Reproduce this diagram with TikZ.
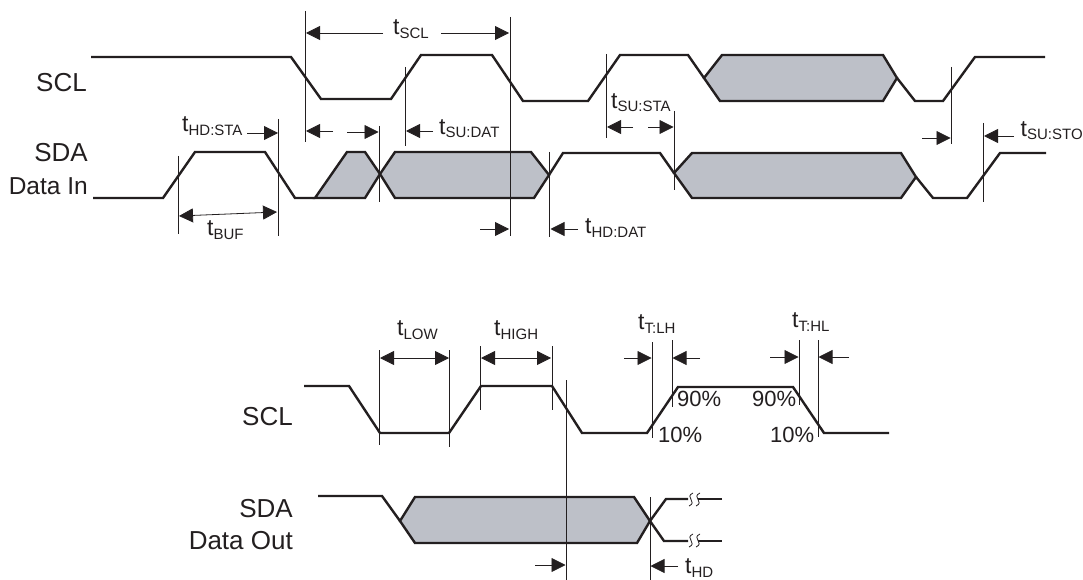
\documentclass[tikz,border=0pt]{standalone}
\usepackage{fontspec}
\setmainfont{Liberation Sans}
\usetikzlibrary{arrows.meta}
\definecolor{inkblack}{HTML}{231F20}
\definecolor{busgray}{HTML}{BDC0C8}
\newcommand{\tlab}[1]{t\raisebox{-3.5pt}{\fontsize{15}{15}\selectfont #1}}
\tikzset{
  wave/.style={line width=2.4pt,color=inkblack},
  bus/.style={wave,fill=busgray},
  tick/.style={line width=0.8pt,color=inkblack},
  dim/.style={line width=0.8pt,color=inkblack,-{Triangle[length=14pt,width=14pt]}},
  dimboth/.style={line width=0.8pt,color=inkblack,{Triangle[length=14pt,width=14pt]}-{Triangle[length=14pt,width=14pt]}},
  sig/.style={inner sep=0,anchor=base east,color=inkblack,font=\fontsize{26}{26}\selectfont},
  sigsmall/.style={sig,font=\fontsize{24.5}{26}\selectfont},
  tname/.style={inner sep=0,anchor=base west,color=inkblack,font=\fontsize{23}{23}\selectfont},
  pct/.style={tname,font=\fontsize{22}{22}\selectfont},
}
\begin{document}
\begin{tikzpicture}[x=1pt,y=-1pt]
\useasboundingbox (0,0) rectangle (1083,580);
% upper diagram
\node[sig](scla) at (87,92) {SCL};
\node[sig](sdaa) at (88,162) {SDA};
\node[sigsmall](datain) at (88,194) {Data In};

\draw[bus] (704,78)--(722,55)--(883,55)--(897,78)--(883,101)--(720,101)--cycle;
\draw[wave] (91,57)--(291,57)--(321,99)--(391,99)--(421,55)--(492,55)--(523,101)--(588,101)--(620,55)--(688,55)--(704,78);
\draw[wave] (897,78)--(915,101)--(943,101)--(975,57)--(1045,57);

\draw[bus] (315,198)--(347,152)--(365,152)--(380,174)--(365,198)--cycle;
\draw[bus] (380,174)--(395,152)--(531,152)--(549,175)--(534,198)--(395,198)--cycle;
\draw[bus] (674,173)--(692,153)--(901,153)--(916,177)--(901,198)--(692,198)--cycle;
\draw[wave] (93,198)--(163,198)--(195,152)--(265,152)--(295,198)--(315,198);
\draw[wave] (549,175)--(563,153)--(660,153)--(674,173);
\draw[wave] (916,177)--(933,198)--(967,198)--(1000,153)--(1046,153);

\draw[tick] (305,11)--(305,142); \draw[tick] (510,17)--(510,236);
\draw[tick] (405,67)--(405,146); \draw[tick] (379,126)--(379,202);
\draw[tick] (278.5,119)--(278.5,236); \draw[tick] (178,156)--(178,234);
\draw[tick] (549.5,152)--(549.5,237); \draw[tick] (606,54)--(606,138);
\draw[tick] (674,111)--(674,190); \draw[tick] (951,67)--(951,144);
\draw[tick] (983,123)--(983,202);

\draw[dim] (383,33)--(306,33); \draw[dim] (441,33)--(509,33);
\draw[dim] (247,133)--(278,133);
\draw[dim] (333,131)--(306,131); \draw[dim] (347,132)--(378.5,132);
\draw[dim] (433,131)--(406,131);
\draw[dimboth] (179,216)--(277,212);
\draw[dim] (480,229)--(509,229); \draw[dim] (578,229)--(550.5,229);
\draw[dim] (633,127)--(607,127); \draw[dim] (648,127)--(673.5,127);
\draw[dim] (922,138)--(950.5,138); \draw[dim] (1014,136)--(984,136);

\node[tname](tscl) at (393,35) {\tlab{SCL}};
\node[tname](thdsta) at (182,132) {\tlab{HD:STA}};
\node[tname](tsudat) at (439,134.5) {\tlab{SU:DAT}};
\node[tname](tbuf) at (207,235.5) {\tlab{BUF}};
\node[tname](thddat) at (585,233.5) {\tlab{HD:DAT}};
\node[tname](tsusta) at (611,108.5) {\tlab{SU:STA}};
\node[tname](tsusto) at (1020.5,136.5) {\tlab{SU:STO}};

% lower diagram
\node[sig](sclb) at (293,425) {SCL};
\node[sig](sdab) at (293,517) {SDA};
\node[sig](dataout) at (293,549) {Data Out};

\draw[wave] (304,386)--(349,386)--(380,433)--(449,433)--(481,386)--(552,386)--(582,433)--(647,433)--(678,387)--(793,387)--(824,433)--(889,433);

\draw[bus] (400,521)--(415,497)--(634,497)--(650,521)--(637,543)--(415,543)--cycle;
\draw[wave] (318,496)--(382,496)--(400,521);
\draw[wave] (722,499)--(698,499); \draw[wave] (688,499)--(666,499)--(650,521)--(664,541)--(688,541);
\draw[wave] (698,541)--(722,541);
\draw[tick] (693,493) .. controls (684,497) and (698,502) .. (689,506);
\draw[tick] (700,493) .. controls (691,497) and (705,502) .. (696,506);
\draw[tick] (693,534) .. controls (684,538) and (698,543) .. (689,547);
\draw[tick] (700,534) .. controls (691,538) and (705,543) .. (696,547);

\draw[tick] (379,350)--(379,445); \draw[tick] (449,350)--(449,447);
\draw[tick] (480,346)--(480,410); \draw[tick] (552,346)--(552,410);
\draw[tick] (566,380)--(566,580); \draw[tick] (652,342)--(652,438);
\draw[tick] (672,340)--(672,407); \draw[tick] (799,340)--(799,405);
\draw[tick] (818,340)--(818,437); \draw[tick] (650,497)--(650,580);

\draw[dimboth] (380,358)--(449,358); \draw[dimboth] (481,358)--(551,358);
\draw[dim] (624,358)--(651.5,358); \draw[dim] (700,358)--(672.5,358);
\draw[dim] (770,357)--(798.5,357); \draw[dim] (849,357)--(818.5,357);
\draw[dim] (535,565)--(565.5,565); \draw[dim] (678,566)--(650.5,566);

\node[tname](tlow) at (397,335.5) {\tlab{LOW}};
\node[tname](thigh) at (494,335.5) {\tlab{HIGH}};
\node[tname](ttlh) at (638,329.5) {\tlab{T:LH}};
\node[tname](tthl) at (792,327.5) {\tlab{T:HL}};
\node[tname](thd) at (685,573.5) {\tlab{HD}};

\node[pct](riseb) at (677,406) {90\%};
\node[pct](fallb) at (752,406) {90\%};
\node[pct](risea) at (658,442) {10\%};
\node[pct](falla) at (770,442) {10\%};
\end{tikzpicture}
\end{document}
